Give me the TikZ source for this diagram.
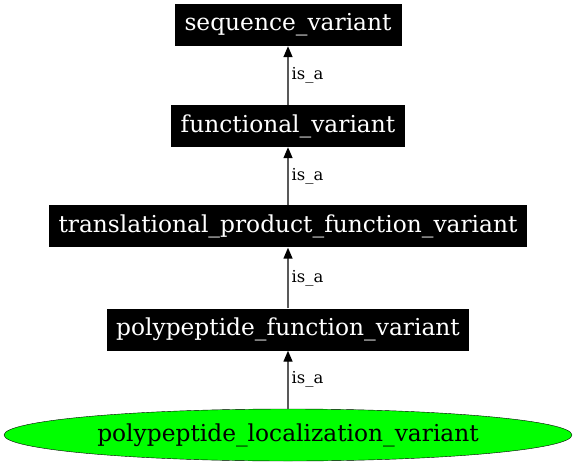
\documentclass[tikz,border=0pt]{standalone}
\usepackage{fontspec}
\setmainfont{DejaVu Serif}
\usetikzlibrary{shapes.geometric, arrows.meta}

\tikzset{
  term/.style={fill=black, text=white, inner sep=0pt, minimum height=42bp,
    font=\fontsize{23.4}{27}\selectfont},
  leaf/.style={ellipse, draw=black, fill=green, inner sep=0pt, minimum height=52bp,
    font=\fontsize{23.4}{27}\selectfont},
  isa/.style={draw=black!65, line width=1.4bp,
    -{Triangle[length=11bp, width=9bp, color=black]}},
  lbl/.style={right, inner sep=3bp, font=\fontsize{16.5}{19}\selectfont},
}

\begin{document}
\begin{tikzpicture}[x=1bp, y=-1bp]
  \useasboundingbox (0, 0) rectangle (576, 463);

  % Terms
  \node[term, minimum width=227bp] (seq) at (288, 25) {sequence\_variant};
  \node[term, minimum width=234bp] (func) at (288, 126) {functional\_variant};
  \node[term, minimum width=477bp] (trans) at (288, 226.5) {translational\_product\_function\_variant};
  \node[term, minimum width=362bp] (poly) at (288, 329.5) {polypeptide\_function\_variant};
  \node[leaf, minimum width=568bp] (loc) at (288, 435) {polypeptide\_localization\_variant};

  % is_a edges
  \draw[isa] (loc) -- node[lbl] {is\_a} (poly);
  \draw[isa] (poly) -- node[lbl] {is\_a} (trans);
  \draw[isa] (trans) -- node[lbl] {is\_a} (func);
  \draw[isa] (func) -- node[lbl] {is\_a} (seq);
\end{tikzpicture}
\end{document}
